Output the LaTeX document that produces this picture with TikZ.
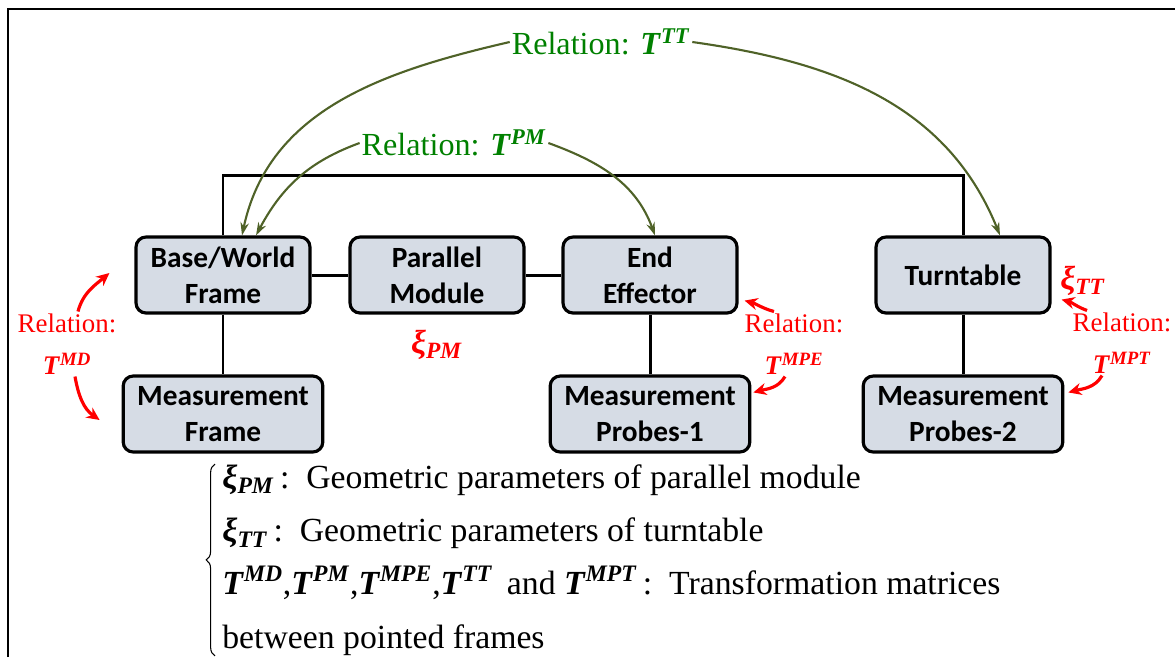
\documentclass[tikz,border=0pt]{standalone}
\usepackage{fontspec}
\setmainfont{Liberation Serif}
\newfontfamily\boxfont{Carlito}
\usetikzlibrary{arrows.meta,positioning,decorations.pathreplacing}
\definecolor{boxfill}{HTML}{D6DCE5}
\definecolor{relgreen}{HTML}{008000}
\definecolor{arrgreen}{HTML}{4F6228}
\definecolor{relred}{HTML}{FF0000}
\newcommand{\Tsup}[1]{\textbf{\textit{T}}\textsuperscript{\textbf{\textit{#1}}}}
\newcommand{\Xsub}[1]{\textbf{\textit{ξ}}\textsubscript{\textbf{\textit{#1}}}}
\tikzset{
  frame/.style={
    draw=black, line width=1.8pt, fill=boxfill, rounded corners=2mm,
    minimum width=3.48cm, minimum height=1.52cm,
    inner xsep=8pt, align=center,
    font=\boxfont\bfseries\fontsize{16.7}{20.4}\selectfont
  },
  link/.style={line width=1.7pt},
  relnote/.style={text=relgreen, inner sep=1pt, font=\fontsize{18.3}{22}\selectfont},
  relarr/.style={-{Stealth[length=2.6mm,width=1.7mm]}, line width=1.2pt, draw=arrgreen},
  rednote/.style={
    text=relred, inner sep=1pt, align=center,
    font=\fontsize{15.3}{24}\selectfont
  },
  redarr/.style={-{Stealth[length=2.6mm,width=2.4mm]}, line width=1.8pt, draw=relred},
  legendtext/.style={
    anchor=north west, inner sep=0pt, align=left,
    font=\fontsize{19.2}{30.4}\selectfont
  }
}
\begin{document}
\begin{tikzpicture}[x=0.02cm, y=0.02cm]
  \useasboundingbox (0,0) rectangle (1175,-657);
  \draw[line width=1.1pt] (8,-657) -- (8,-9) -- (1175,-9);

  \node[frame] (base) at (223,-275) {Base/World\\Frame};
  \node[frame] (pm) at (437,-275) {Parallel\\Module};
  \node[frame] (ee) at (650,-275) {End\\Effector};
  \node[frame] (tt) at (963,-275) {Turntable};
  \node[frame] (mf) at (223,-414) {Measurement\\Frame};
  \node[frame] (mp1) at (650,-414) {Measurement\\Probes-1};
  \node[frame] (mp2) at (963,-414) {Measurement\\Probes-2};

  \draw[link] (base) -- (pm);
  \draw[link] (pm) -- (ee);
  \draw[link] (base) -- (mf);
  \draw[link] (ee) -- (mp1);
  \draw[link] (tt) -- (mp2);
  \draw[link] (base.north) -- ++(0,60) -| (tt.north);

  \node[relnote] (relTT) at (601,-42) {Relation: \Tsup{TT}};
  \node[relnote] (relPM) at (454,-143) {Relation: \Tsup{PM}};
  \draw[relarr] (relTT.west) to[out=193,in=78] ([xshift=0.38cm]base.north);
  \draw[relarr] (relTT.east) to[out=-8,in=112] ([xshift=0.74cm]tt.north);
  \draw[relarr] (relPM.west) to[out=200,in=62] ([xshift=0.66cm]base.north);
  \draw[relarr] (relPM.east) to[out=-20,in=110] ([xshift=0.1cm]ee.north);

  \node[rednote] (xiPM) at (437,-345) {\fontsize{19}{22}\selectfont\Xsub{PM}};
  \node[rednote] (xiTT) at (1083,-281) {\fontsize{19}{22}\selectfont\Xsub{TT}};
  \node[rednote] (mdNote) at (67,-344) {Relation:\\\Tsup{MD}};
  \node[rednote] (mpeNote) at (794,-344) {Relation:\\\Tsup{MPE}};
  \node[rednote] (mptNote) at (1122,-343) {Relation:\\\Tsup{MPT}};

  \draw[redarr] ([xshift=0.22cm]mdNote.north) to[out=75,in=220] ([xshift=-0.5cm,yshift=0.04cm]base.west);
  \draw[redarr] ([xshift=0.16cm]mdNote.south) to[out=-80,in=145] ([xshift=-0.44cm,yshift=-0.12cm]mf.west);
  \draw[redarr] ([xshift=-0.4cm]mpeNote.north) to[out=165,in=-15] ([xshift=0.12cm,yshift=0.28cm]ee.south east);
  \draw[redarr] ([xshift=-0.18cm]mpeNote.south) to[out=-120,in=15] ([xshift=0.04cm,yshift=-0.36cm]mp1.north east);
  \draw[redarr] ([xshift=-0.7cm]mptNote.north) to[out=160,in=-15] ([xshift=0.2cm,yshift=0.3cm]tt.south east);
  \draw[redarr] ([xshift=-0.4cm]mptNote.south) to[out=-120,in=15] ([xshift=0.08cm,yshift=-0.36cm]mp2.north east);

  \node[legendtext] (legend) at (222,-464) {%
    \Xsub{PM}\,:\, Geometric parameters of parallel module\\
    \Xsub{TT}\,:\, Geometric parameters of turntable\\
    \Tsup{MD},\Tsup{PM},\Tsup{MPE},\Tsup{TT}\, and \Tsup{MPT}\,:\, Transformation matrices\\
    between pointed frames};
  \draw[decorate, decoration={brace, amplitude=5pt}, line width=0.6pt]
    ([xshift=-0.14cm]legend.south west) -- ([xshift=-0.14cm]legend.north west);
\end{tikzpicture}
\end{document}
